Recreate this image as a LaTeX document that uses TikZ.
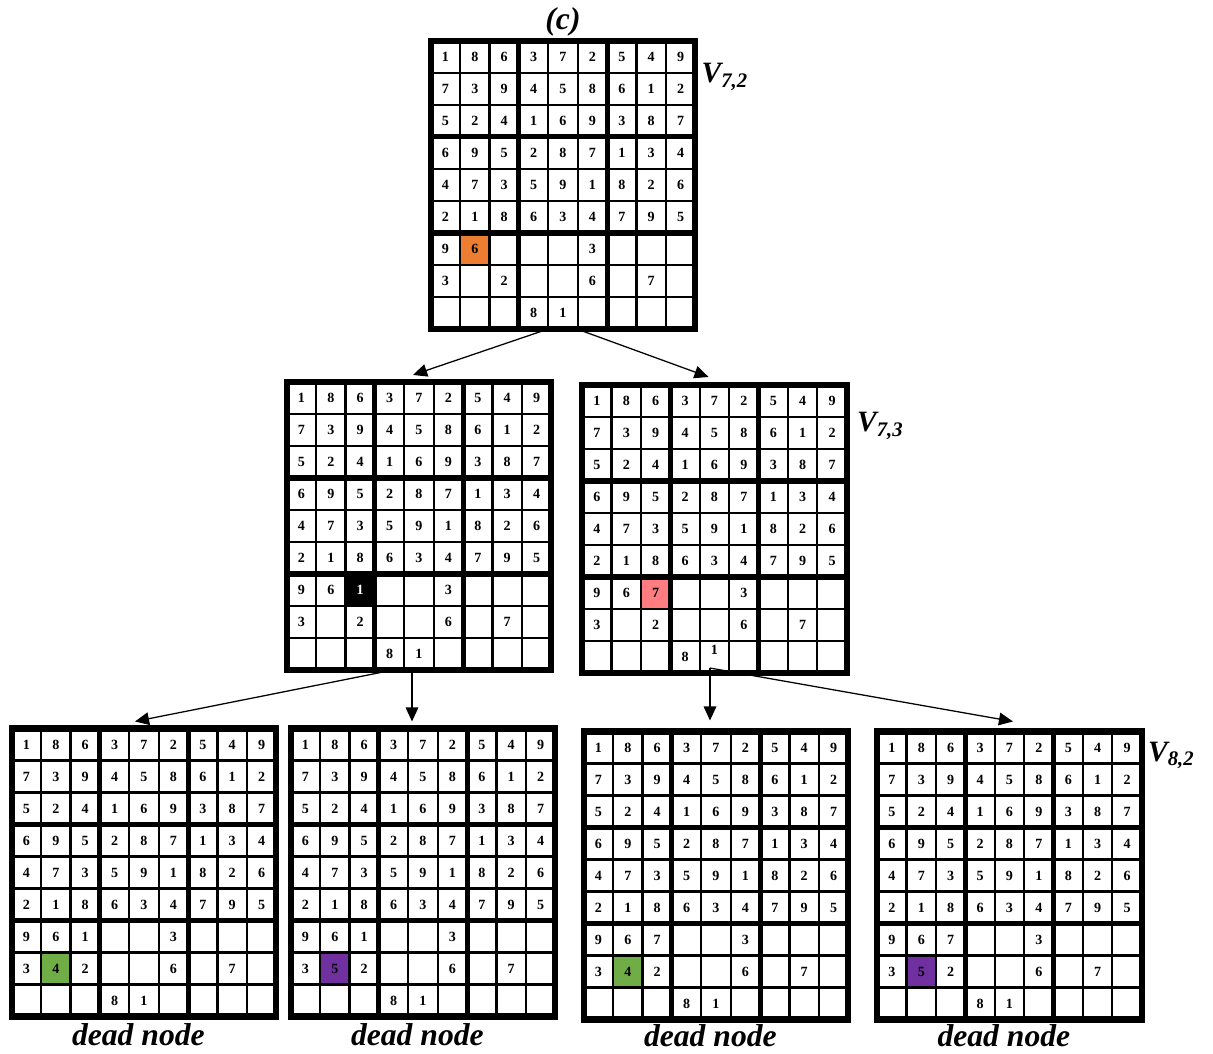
\documentclass[tikz,border=0pt]{standalone}
\usepackage{fontspec}
\setmainfont{Liberation Serif}
\usetikzlibrary{arrows.meta,positioning,calc}
\definecolor{ink}{HTML}{000000}
\definecolor{orangecell}{HTML}{ED7D31}
\definecolor{redcell}{HTML}{FF7C80}
\definecolor{greencell}{HTML}{70AD47}
\definecolor{purplecell}{HTML}{7030A0}

% cell size in picture units (px)
\newcommand{\cellw}{29.4}
\newcommand{\cellh}{32}

% #1 name, #2 centre, #3-#5 rows 7 to 9 (digit/style)
\newcommand{\sudokuboard}[5]{%
  \node[board] (#1) at (#2) {};
  \begin{scope}[shift={(#1.north west)}]
    \foreach \rowvals [count=\r] in {{1/,8/,6/,3/,7/,2/,5/,4/,9/},
        {7/,3/,9/,4/,5/,8/,6/,1/,2/},
        {5/,2/,4/,1/,6/,9/,3/,8/,7/},
        {6/,9/,5/,2/,8/,7/,1/,3/,4/},
        {4/,7/,3/,5/,9/,1/,8/,2/,6/},
        {2/,1/,8/,6/,3/,4/,7/,9/,5/},
        {#3},{#4},{#5}}
      \foreach \d/\sty [count=\c] in \rowvals
        \node[cell,\sty] at ({(\c-0.5)*\cellw},{(\r-0.5)*\cellh}) {\d};
    \foreach \i in {1,2,4,5,7,8} {
      \draw[thinrule] ({\i*\cellw},0) -- ({\i*\cellw},{9*\cellh});
      \draw[thinrule] (0,{\i*\cellh}) -- ({9*\cellw},{\i*\cellh});
    }
    \foreach \i in {3,6} {
      \draw[thickrule] ({\i*\cellw},0) -- ({\i*\cellw},{9*\cellh});
      \draw[thickrule] (0,{\i*\cellh}) -- ({9*\cellw},{\i*\cellh});
    }
  \end{scope}
}

\begin{document}
\begin{tikzpicture}[
  x=0.025cm, y=-0.025cm,
  board/.style={draw=ink, line width=4.4pt, outer sep=0pt, inner sep=0pt,
    minimum width=6.615cm, minimum height=7.2cm, fill=white},
  cell/.style={minimum width=0.735cm, minimum height=0.8cm, inner sep=0pt,
    font=\bfseries\fontsize{10}{10}\selectfont},
  thinrule/.style={draw=ink, line width=1.6pt},
  thickrule/.style={draw=ink, line width=3.6pt},
  hlorange/.style={fill=orangecell},
  hlred/.style={fill=redcell},
  hlgreen/.style={fill=greencell},
  hlpurple/.style={fill=purplecell},
  hlblack/.style={fill=black, text=white},
  raised/.style={yshift=5pt},
  vlabel/.style={inner sep=0pt, font=\bfseries\itshape\fontsize{21}{21}\selectfont},
  deadlabel/.style={inner sep=0pt, font=\bfseries\itshape\fontsize{22.5}{22.5}\selectfont},
  flowline/.style={-{Triangle[length=10pt,width=9pt]}, draw=ink, line width=0.9pt},
]
  \useasboundingbox (0,0) rectangle (1213,1054);

  % boards
  \sudokuboard{top}{563,185}{9/,6/hlorange,/,/,/,3/,/,/,/}{3/,/,2/,/,/,6/,/,7/,/}{/,/,/,8/,1/,/,/,/,/}
  \sudokuboard{ml}{419,526}{9/,6/,1/hlblack,/,/,3/,/,/,/}{3/,/,2/,/,/,6/,/,7/,/}{/,/,/,8/,1/,/,/,/,/}
  \sudokuboard{mr}{714.5,529}{9/,6/,7/hlred,/,/,3/,/,/,/}{3/,/,2/,/,/,6/,/,7/,/}{/,/,/,8/,1/raised,/,/,/,/}
  \sudokuboard{ba}{144,872.5}{9/,6/,1/,/,/,3/,/,/,/}{3/,4/hlgreen,2/,/,/,6/,/,7/,/}{/,/,/,8/,1/,/,/,/,/}
  \sudokuboard{bb}{423,872.5}{9/,6/,1/,/,/,3/,/,/,/}{3/,5/hlpurple,2/,/,/,6/,/,7/,/}{/,/,/,8/,1/,/,/,/,/}
  \sudokuboard{bc}{716,875.5}{9/,6/,7/,/,/,3/,/,/,/}{3/,4/hlgreen,2/,/,/,6/,/,7/,/}{/,/,/,8/,1/,/,/,/,/}
  \sudokuboard{bd}{1009.5,875.5}{9/,6/,7/,/,/,3/,/,/,/}{3/,5/hlpurple,2/,/,/,6/,/,7/,/}{/,/,/,8/,1/,/,/,/,/}

  % labels
  \node[deadlabel, above=3pt of top] (tag) {(c)};
  \node[vlabel, anchor=base west] (v72) at ($(top.north east)+(6,42)$) {V\textsubscript{7,2}};
  \node[vlabel, anchor=base west] (v73) at ($(mr.north east)+(10,47)$) {V\textsubscript{7,3}};
  \node[vlabel, anchor=base west] (v82) at ($(bd.north east)+(6,30)$) {V\textsubscript{8,2}};
  \foreach \b in {ba,bb}
    \node[deadlabel, below=5pt of \b, xshift=-4pt] (dead-\b) {dead node};
  \foreach \b in {bc,bd}
    \node[deadlabel, below=3pt of \b, xshift=-4pt] (dead-\b) {dead node};

  % search tree
  \draw[flowline] ($(top.south)+(-15,0)$) -- ($(ml.north)+(-6,-7)$);
  \draw[flowline] ($(top.south)+(14,0)$) -- ($(mr.north)+(-6,-8)$);
  \draw[flowline] ($(ml.south)+(-26,0)$) -- ($(ba.north)+(-9,-7)$);
  \draw[flowline] ($(ml.south)+(-7,0)$) -- ($(bb.north)+(-11,-7)$);
  \coordinate (split) at ($(mr.south)+(-4.5,-5)$);
  \draw[flowline] (split) -- ($(bc.north)+(-6,-11)$);
  \draw[flowline] (split) -- ($(bd.north)+(3.5,-10)$);
\end{tikzpicture}
\end{document}
